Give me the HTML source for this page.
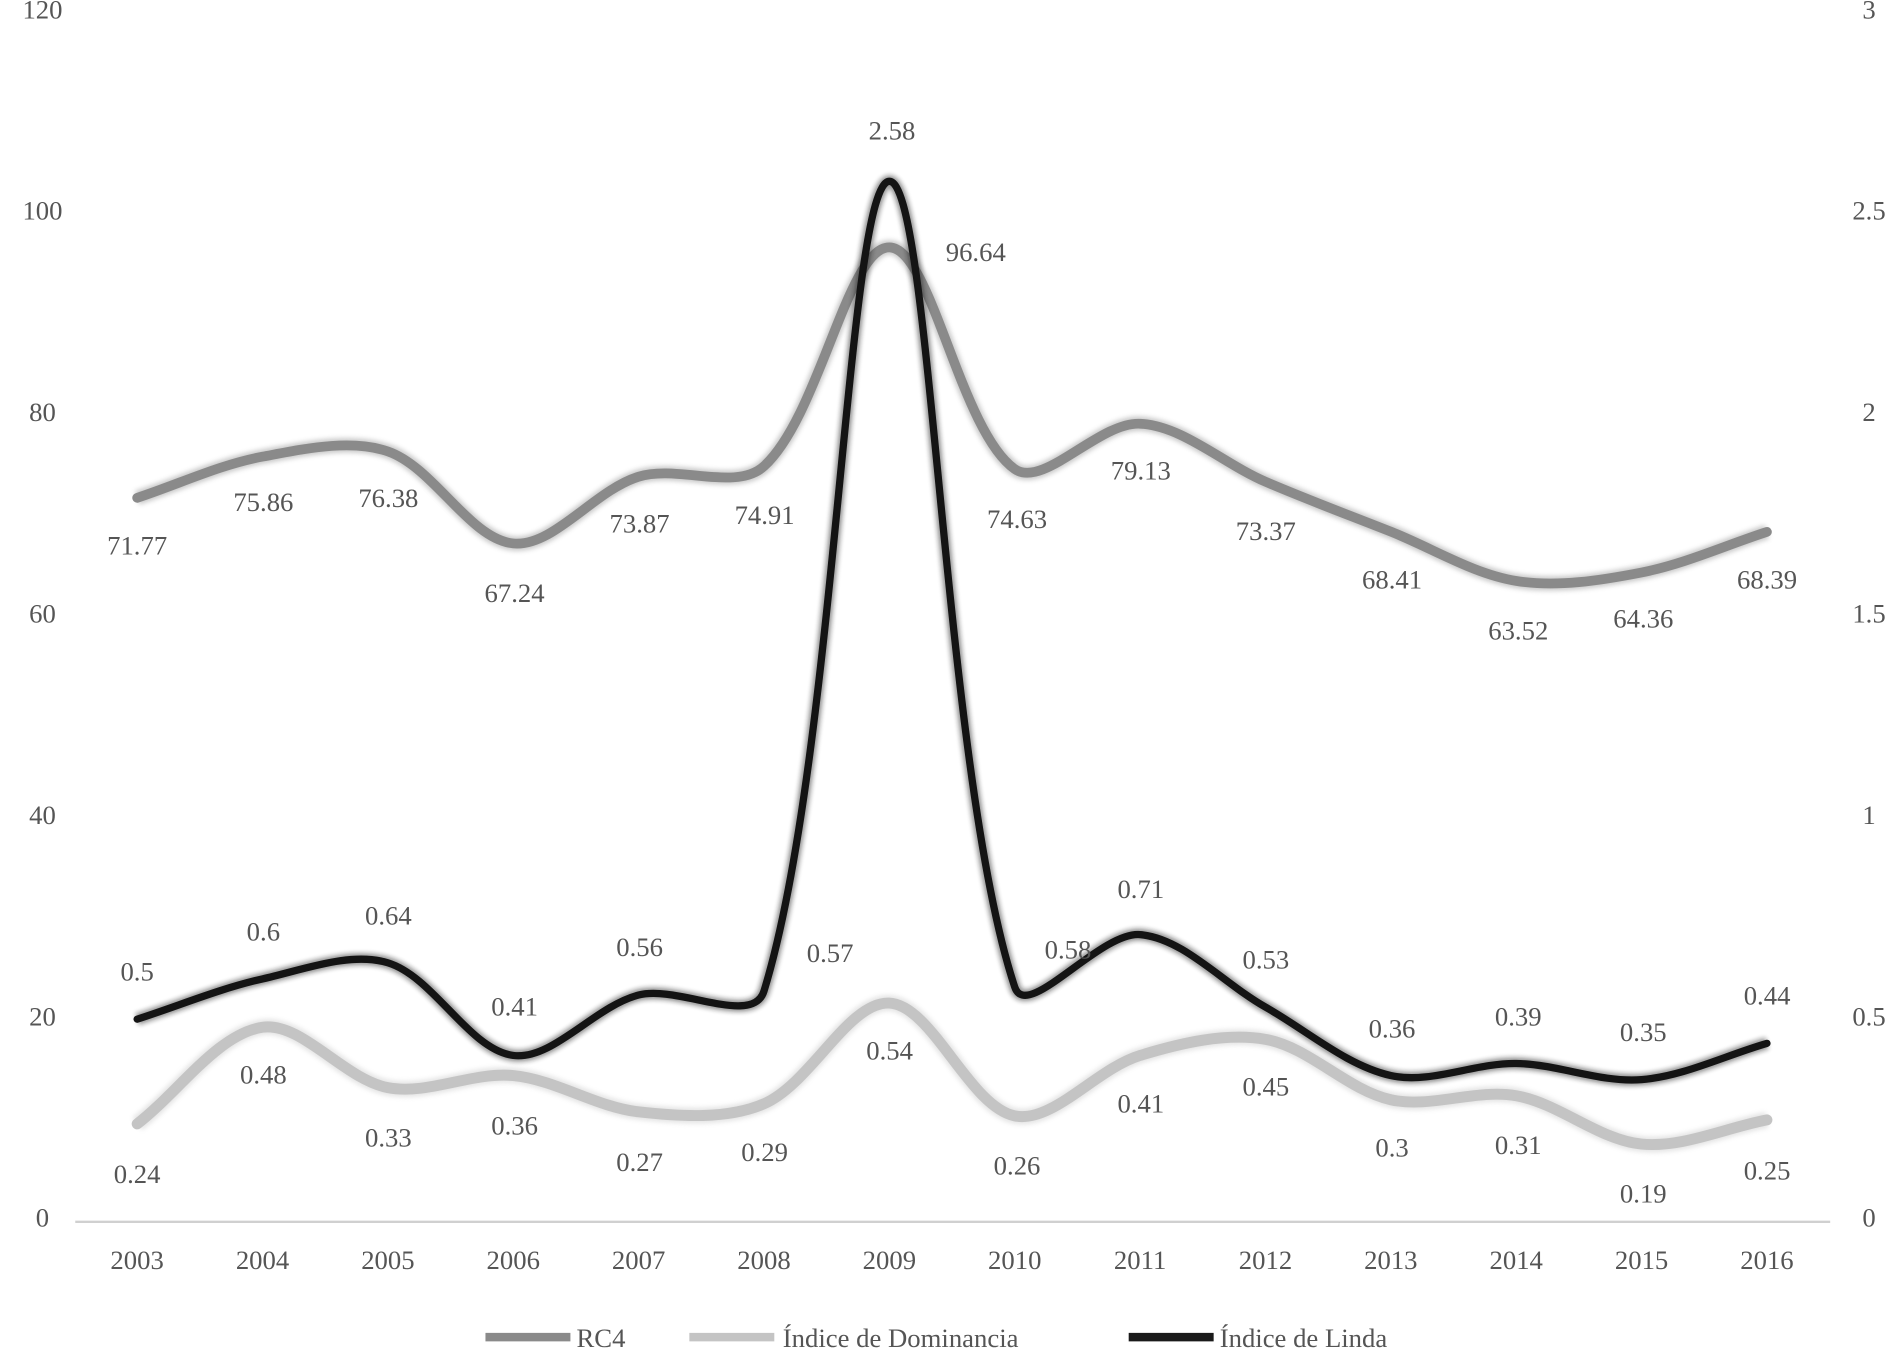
<!DOCTYPE html>
<html><head><meta charset="utf-8"><style>
html,body{margin:0;padding:0;background:#fff;}
svg{display:block}
text{font-family:"Liberation Serif",serif;fill:#555;font-size:22px;}
</style></head><body>
<svg id="c" width="1903" height="1348" viewBox="0 0 1568 1111" preserveAspectRatio="none" xmlns="http://www.w3.org/2000/svg">
<defs><filter id="b" x="-10%" y="-10%" width="120%" height="120%"><feGaussianBlur stdDeviation="2"/></filter></defs>
<g text-anchor="middle" dominant-baseline="middle">
<text x="35" y="10">120</text><text x="35" y="176">100</text><text x="35" y="342">80</text><text x="35" y="508">60</text><text x="35" y="674">40</text><text x="35" y="840">20</text><text x="35" y="1006">0</text>
<text x="1540" y="10">3</text><text x="1540" y="176">2.5</text><text x="1540" y="342">2</text><text x="1540" y="508">1.5</text><text x="1540" y="674">1</text><text x="1540" y="840">0.5</text><text x="1540" y="1006">0</text>
</g>
<line x1="62" y1="1007" x2="1508" y2="1007" stroke="#d0d0d0" stroke-width="2"/>
<g id="years" text-anchor="middle" dominant-baseline="middle"></g>
<g id="lines"></g>
<g id="labels" text-anchor="middle" dominant-baseline="middle"></g>
<g>
<line x1="400" y1="1102" x2="470" y2="1102" stroke="#8a8a8a" stroke-width="7"/>
<text x="475" y="1110">RC4</text>
<line x1="568" y1="1102" x2="638" y2="1102" stroke="#c4c4c4" stroke-width="7"/>
<text x="645" y="1110">Índice de Dominancia</text>
<line x1="930" y1="1102" x2="1000" y2="1102" stroke="#1a1a1a" stroke-width="7"/>
<text x="1005" y="1110">Índice de Linda</text>
</g>
</svg>
<script>
var NS="http://www.w3.org/2000/svg";
var X=[];for(var i=0;i<14;i++)X.push(113+103.3*i);
var rc=[71.77,75.86,76.38,67.24,73.87,74.91,96.64,74.63,79.13,73.37,68.41,63.52,64.36,68.39];
var dm=[.24,.48,.33,.36,.27,.29,.54,.26,.41,.45,.3,.31,.19,.25];
var ld=[.5,.6,.64,.41,.56,.57,2.58,.58,.71,.53,.36,.39,.35,.44];
function el(t,a,p){var e=document.createElementNS(NS,t);for(var k in a)e.setAttribute(k,a[k]);p.appendChild(e);return e;}
function dist(a,b){return Math.hypot(a[0]-b[0],a[1]-b[1]);}
function ctrl(P,i){var p0=P[i-1]||P[i],p1=P[i],p2=P[i+1]||P[i];var d01=dist(p0,p1),d12=dist(p1,p2),s=d01+d12||1,f=1/3;
return {a:[p1[0]-(p2[0]-p0[0])*f*d01/s,p1[1]-(p2[1]-p0[1])*f*d01/s],b:[p1[0]+(p2[0]-p0[0])*f*d12/s,p1[1]+(p2[1]-p0[1])*f*d12/s]};}
function path(P){var d="M"+P[0][0]+","+P[0][1];for(var i=0;i<P.length-1;i++){var c1=ctrl(P,i).b,c2=ctrl(P,i+1).a;
d+=" C"+c1[0]+","+c1[1]+" "+c2[0]+","+c2[1]+" "+P[i+1][0]+","+P[i+1][1];}return d;}
var L=document.getElementById("lines");
function series(v,sc,col,w){var P=v.map(function(a,i){return [X[i],1006-a*sc];});var d=path(P);
el("path",{d:d,fill:"none",stroke:col,"stroke-width":w+4,opacity:0.45,filter:"url(#b)"},L);
el("path",{d:d,fill:"none",stroke:col,"stroke-width":w,"stroke-linecap":"round"},L);}
series(dm,332,"#c4c4c4",9);
series(rc,8.3,"#8a8a8a",8);
series(ld,332,"#141414",6);
var Y=document.getElementById("years");
for(var i=0;i<14;i++){var t=el("text",{x:X[i],y:1041},Y);t.textContent=2003+i;}
var LB=document.getElementById("labels");
var labs=[["71.77",113,452],["75.86",217,416],["76.38",320,413],["67.24",424,491],["73.87",527,434],["74.91",630,427],["96.64",804,210],["74.63",838,430],["79.13",940,390],["73.37",1043,440],["68.41",1147,480],["63.52",1251,522],["64.36",1354,512],["68.39",1456,480],
["0.24",113,970],["0.48",217,888],["0.33",320,940],["0.36",424,930],["0.27",527,960],["0.29",630,952],["0.54",733,868],["0.26",838,963],["0.41",940,912],["0.45",1043,898],["0.3",1147,948],["0.31",1251,946],["0.19",1354,986],["0.25",1456,967],
["0.5",113,803],["0.6",217,770],["0.64",320,757],["0.41",424,832],["0.56",527,783],["0.57",684,788],["2.58",735,110],["0.58",880,785],["0.71",940,735],["0.53",1043,793],["0.36",1147,850],["0.39",1251,840],["0.35",1354,853],["0.44",1456,823]];
labs.forEach(function(l){var t=el("text",{x:l[1],y:l[2]},LB);t.textContent=l[0];});
</script>
</body></html>
